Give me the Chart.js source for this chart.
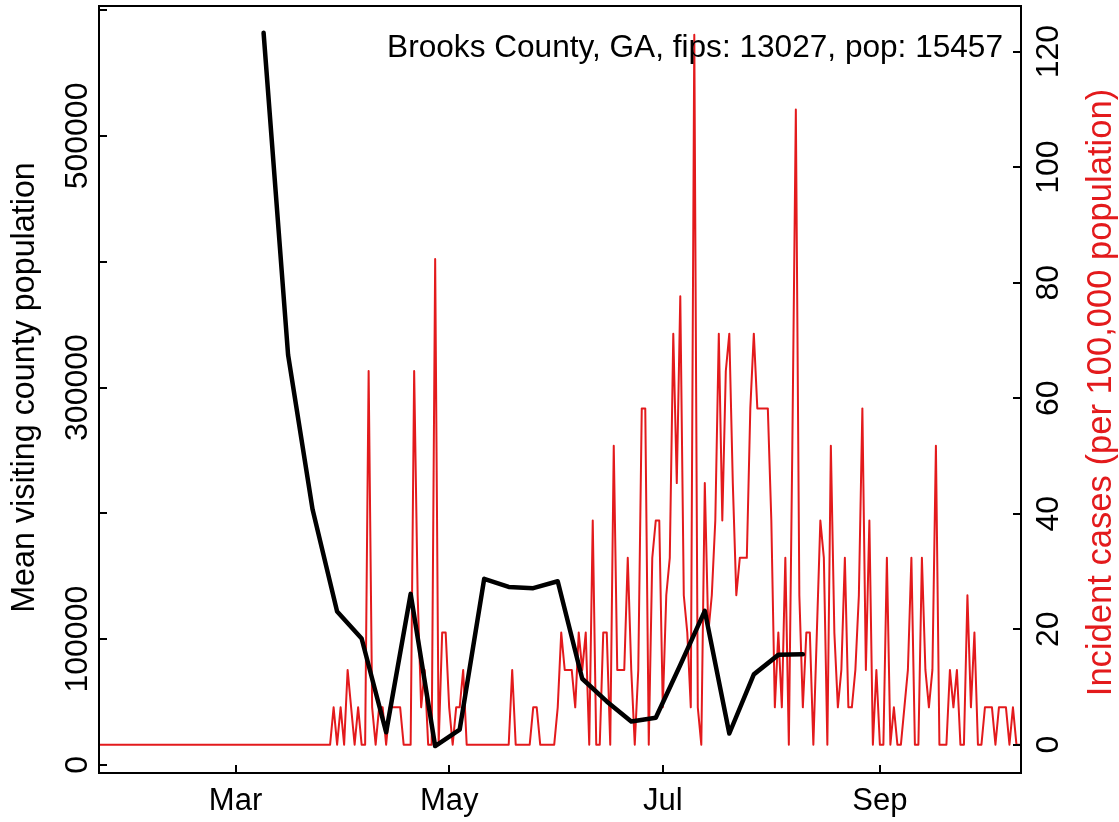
<!DOCTYPE html>
<html>
<head>
<meta charset="utf-8">
<script src="https://cdn.jsdelivr.net/npm/chart.js@4.4.1/dist/chart.umd.min.js"></script>
<style>
  html, body { margin: 0; padding: 0; background: #fff; }
</style>
</head>
<body>
<canvas id="myChart" width="1119" height="822"></canvas>
<script>
// Data
// --------------
// day 0 = 2020-01-22, one value per day (incident cases per 100,000)
const incidence = [
  0, 0, 0, 0, 0, 0, 0, 0, 0, 0, 0,
  0, 0, 0, 0, 0, 0, 0, 0, 0, 0, 0,
  0, 0, 0, 0, 0, 0, 0, 0, 0, 0, 0,
  0, 0, 0, 0, 0, 0, 0, 0, 0, 0, 0,
  0, 0, 0, 0, 0, 0, 0, 0, 0, 0, 0,
  0, 0, 0, 0, 0, 0, 0, 0, 0, 0, 0,
  // d66 (Mar 28)
  0, 6.47, 0, 6.47, 0, 12.94, 6.47, 0, 6.47, 0, 0, 64.70,
  6.47, 0, 6.47, 6.47, 0, 6.47, 6.47, 6.47, 6.47, 0, 0, 0,
  // d90 (Apr 21)
  64.70, 25.88, 6.47, 12.94, 0, 0, 84.10, 0, 19.41, 19.41, 6.47, 0,
  6.47, 6.47, 12.94,
  // d105 (May 6)
  0, 0, 0, 0, 0, 0, 0, 0, 0, 0, 0, 0, 0,
  12.94, 0, 0, 0, 0, 0, 6.47, 6.47, 0, 0, 0, 0, 0,
  // d131 (Jun 1)
  6.47, 19.41, 12.94, 12.94, 12.94, 6.47, 19.41, 12.94, 19.41, 0,
  38.82, 0, 0, 19.41, 19.41, 0, 51.76, 12.94, 12.94, 12.94,
  32.35, 12.94, 0, 12.94, 58.23, 58.23, 0, 32.35, 38.82, 38.82,
  // d161 (Jul 1)
  6.47, 25.88, 32.35, 71.17, 45.29, 77.64, 25.88, 19.41, 6.47, 122.92,
  6.47, 0, 45.29, 19.41, 25.88, 38.82, 71.17, 38.82, 64.70, 71.17,
  45.29, 25.88, 32.35, 32.35, 32.35, 58.23, 71.17, 58.23, 58.23, 58.23,
  58.23,
  // d192 (Aug 1)
  38.82, 6.47, 19.41, 6.47, 32.35, 0, 51.76, 109.98, 25.88, 6.47,
  19.41, 19.41, 0, 19.41, 38.82, 32.35, 0, 51.76, 19.41, 6.47,
  12.94, 32.35, 6.47, 6.47, 12.94, 25.88, 58.23, 12.94, 38.82, 0,
  12.94,
  // d223 (Sep 1)
  0, 0, 32.35, 0, 6.47, 0, 0, 6.47, 12.94, 32.35,
  0, 0, 32.35, 12.94, 6.47, 12.94, 51.76, 0, 0, 0,
  12.94, 6.47, 12.94, 0, 0, 25.88, 6.47, 19.41, 0, 0,
  // d253 (Oct 1)
  6.47, 6.47, 6.47, 0, 6.47, 6.47, 6.47, 0, 6.47, 0, 0
]

// weekly mean visiting county population
const visitDays = [47, 54, 61, 68, 75, 82, 89, 96, 103, 110, 117, 124,
  131, 138, 145, 152, 159, 166, 173, 180, 187, 194, 201]
const visitValues = [582000, 326000, 203000, 122000, 100500, 26000, 136000,
  15000, 28000, 148000, 141500, 140500, 146000, 68500, 50500, 34500, 37500,
  79500, 122500, 25000, 72000, 87500, 88000]

const monthDays = [39, 100, 161, 223]
const monthLabels = ['Mar', 'May', 'Jul', 'Sep']
const leftTicks = [0, 100000, 200000, 300000, 400000, 500000, 600000]
const leftLabels = ['0', '100000', '', '300000', '', '500000', '']
const rightTicks = [0, 20, 40, 60, 80, 100, 120]
const rightLabels = ['0', '20', '40', '60', '80', '100', '120']

const titleText = 'Brooks County, GA, fips: 13027, pop: 15457'
const leftTitle = 'Mean visiting county population'
const rightTitle = 'Incident cases (per 100,000 population)'

const RED = '#e31a1c'
const FAMILY = '"Liberation Sans", Arial, Helvetica, sans-serif'

// axes, box and texts drawn R-style
const baseAxes = {
  id: 'baseAxes',
  afterDraw(chart) {
    const ctx = chart.ctx
    const a = chart.chartArea
    const sx = chart.scales.x, sy = chart.scales.y, sy1 = chart.scales.y1
    const tick = 8
    ctx.save()
    ctx.strokeStyle = '#000'
    ctx.lineWidth = 2
    ctx.strokeRect(a.left, a.top, a.right - a.left, a.bottom - a.top)

    ctx.beginPath()
    leftTicks.forEach(v => {
      const y = Math.round(sy.getPixelForValue(v))
      ctx.moveTo(a.left, y); ctx.lineTo(a.left + tick, y)
    })
    rightTicks.forEach(v => {
      const y = Math.round(sy1.getPixelForValue(v))
      ctx.moveTo(a.right, y); ctx.lineTo(a.right - tick, y)
    })
    monthDays.forEach(d => {
      const x = Math.round(sx.getPixelForValue(d))
      ctx.moveTo(x, a.bottom); ctx.lineTo(x, a.bottom - tick)
    })
    ctx.stroke()

    ctx.fillStyle = '#000'
    ctx.textAlign = 'center'
    ctx.textBaseline = 'alphabetic'
    ctx.font = '31px ' + FAMILY
    monthDays.forEach((d, i) => {
      ctx.fillText(monthLabels[i], sx.getPixelForValue(d), 810)
    })

    const vtext = (txt, x, y, color, size) => {
      ctx.save()
      ctx.translate(x, y)
      ctx.rotate(-Math.PI / 2)
      ctx.font = size + 'px ' + FAMILY
      ctx.fillStyle = color
      ctx.fillText(txt, 0, 0)
      ctx.restore()
    }
    leftTicks.forEach((v, i) => {
      if (leftLabels[i]) vtext(leftLabels[i], 87, sy.getPixelForValue(v), '#000', 32)
    })
    rightTicks.forEach((v, i) => {
      vtext(rightLabels[i], 1058, sy1.getPixelForValue(v), '#000', 32)
    })
    const midY = (a.top + a.bottom) / 2
    vtext(leftTitle, 34, midY - 2, '#000', 32.3)
    vtext(rightTitle, 1111, midY + 3, RED, 34.6)

    ctx.textAlign = 'right'
    ctx.font = '31.6px ' + FAMILY
    ctx.fillText(titleText, 1003, 57)
    ctx.restore()
  }
}

const data = {
  datasets: [{
    label: leftTitle,
    data: visitDays.map((d, i) => ({ x: d, y: visitValues[i] })),
    yAxisID: 'y',
    borderColor: '#000',
    borderWidth: 4.5,
    borderJoinStyle: 'round',
    borderCapStyle: 'round',
    pointRadius: 0,
    tension: 0,
    order: 0
  }, {
    label: rightTitle,
    data: incidence.map((v, i) => ({ x: i, y: v })),
    yAxisID: 'y1',
    borderColor: RED,
    borderWidth: 2,
    borderJoinStyle: 'round',
    borderCapStyle: 'round',
    pointRadius: 0,
    tension: 0,
    order: 1
  }]
}

const config = {
  type: 'line',
  data,
  options: {
    responsive: false,
    animation: false,
    devicePixelRatio: 1,
    layout: { padding: { left: 99, right: 98, top: 6, bottom: 49 } },
    plugins: { legend: { display: false }, tooltip: { enabled: false } },
    scales: {
      x: { type: 'linear', display: false, min: 0, max: 263.3 },
      y: { display: false, min: -6400, max: 603300 },
      y1: { display: false, position: 'right', min: -4.9, max: 127.9 }
    }
  },
  plugins: [baseAxes]
}

const myChart = new Chart(document.getElementById('myChart'), config)
</script>
</body>
</html>
